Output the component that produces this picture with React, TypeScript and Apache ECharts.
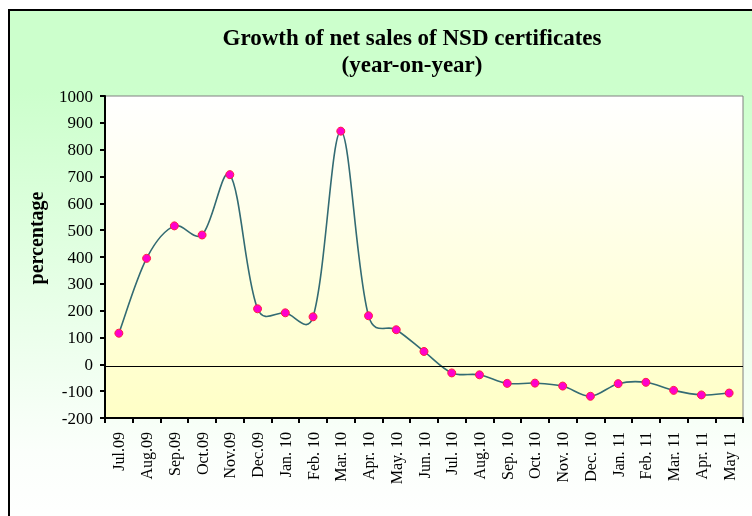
import React, { useEffect, useRef } from "react";
import * as echarts from "echarts";

const categories = [
  "Jul.09", "Aug.09", "Sep.09", "Oct.09", "Nov.09", "Dec.09",
  "Jan. 10", "Feb. 10", "Mar. 10", "Apr. 10", "May. 10", "Jun. 10",
  "Jul. 10", "Aug.10", "Sep. 10", "Oct. 10", "Nov. 10", "Dec. 10",
  "Jan. 11", "Feb. 11", "Mar. 11", "Apr. 11", "May 11",
];

const growth = [
  116, 395, 516, 482, 707, 207, 192, 177, 869, 181, 129, 48,
  -32, -39, -71, -70, -81, -119, -72, -67, -97, -114, -107,
];

const yMin = -200;
const yMax = 1000;
const yStep = 100;
const baseLineValue = -7;

const titleText = "Growth of net sales of NSD certificates\n(year-on-year)";
const yName = "percentage";

const serif = "'Liberation Serif', 'Times New Roman', serif";
const lineColor = "#336b73";

export default function App() {
  const ref = useRef<HTMLDivElement>(null);

  useEffect(() => {
    if (!ref.current) return;
    const chart = echarts.init(ref.current, undefined, { renderer: "svg" });
    const n = growth.length;
    const curveData = growth.map((v, i) => [i, v]);
    const dist = (a: number[], b: number[]) => Math.hypot(a[0] - b[0], a[1] - b[1]);

    chart.setOption({
      animation: false,
      graphic: [
        {
          type: "rect",
          z: -10,
          silent: true,
          shape: { x: 9, y: 10, width: 760, height: 520 },
          style: {
            fill: new echarts.graphic.LinearGradient(0, 0, 0, 1, [
              { offset: 0, color: "#ccffcc" },
              { offset: 0.15, color: "#ccffcc" },
              { offset: 0.85, color: "#fbfffb" },
              { offset: 1, color: "#ffffff" },
            ]),
            stroke: "#000000",
            lineWidth: 2,
          },
        },
        {
          type: "text",
          x: 36,
          y: 238,
          rotation: Math.PI / 2,
          style: {
            text: yName,
            fontFamily: serif,
            fontSize: 20,
            fontWeight: "bold",
            fill: "#000000",
            align: "center",
            verticalAlign: "middle",
          },
        },
      ],
      title: {
        text: titleText,
        left: 407,
        top: 19,
        textAlign: "center",
        textStyle: {
          fontFamily: serif,
          fontSize: 23,
          fontWeight: "bold",
          color: "#000000",
          lineHeight: 27,
        },
      },
      grid: {
        left: 105,
        right: 9,
        top: 96,
        bottom: 98,
        show: true,
        borderColor: "#808080",
        borderWidth: 1,
        backgroundColor: new echarts.graphic.LinearGradient(0, 0, 0, 1, [
          { offset: 0, color: "#ffffff" },
          { offset: 1, color: "#ffffc6" },
        ]),
      },
      xAxis: {
        type: "category",
        data: categories,
        boundaryGap: true,
        axisLine: { show: true, onZero: false, lineStyle: { color: "#000000", width: 2 } },
        axisTick: { show: true, length: 5, lineStyle: { color: "#000000", width: 2 } },
        axisLabel: {
          interval: 0,
          rotate: 90,
          margin: 14,
          fontFamily: serif,
          fontSize: 16,
          color: "#000000",
        },
        splitLine: { show: false },
      },
      yAxis: {
        type: "value",
        min: yMin,
        max: yMax,
        interval: yStep,
        axisLine: { show: true, lineStyle: { color: "#000000", width: 2 } },
        axisTick: { show: true, length: 5, lineStyle: { color: "#000000", width: 2 } },
        axisLabel: {
          margin: 12,
          fontFamily: serif,
          fontSize: 17,
          color: "#000000",
          formatter: (v: number) => String(v),
        },
        splitLine: { show: false },
      },
      series: [
        {
          type: "custom",
          data: curveData,
          encode: { x: 0, y: 1 },
          z: 2,
          silent: true,
          renderItem: (params: any, api: any) => {
            const i = params.dataIndex;
            if (i >= n - 1) return null;
            const pt = (k: number) => {
              const kk = Math.max(0, Math.min(n - 1, k));
              return api.coord([kk, growth[kk]]);
            };
            const p0 = pt(i - 1);
            const p1 = pt(i);
            const p2 = pt(i + 1);
            const p3 = pt(i + 2);
            const k = 1 / 3;
            const d01 = dist(p0, p1);
            const d12 = dist(p1, p2);
            const d23 = dist(p2, p3);
            const wOut = d01 + d12 > 0 ? (d12 / (d01 + d12) + 0.5) / 2 : 0.5;
            const wIn = d12 + d23 > 0 ? (d12 / (d12 + d23) + 0.5) / 2 : 0.5;
            return {
              type: "bezierCurve",
              shape: {
                x1: p1[0],
                y1: p1[1],
                cpx1: p1[0] + (p2[0] - p0[0]) * k * wOut,
                cpy1: p1[1] + (p2[1] - p0[1]) * k * wOut,
                cpx2: p2[0] - (p3[0] - p1[0]) * k * wIn,
                cpy2: p2[1] - (p3[1] - p1[1]) * k * wIn,
                x2: p2[0],
                y2: p2[1],
              },
              style: { stroke: lineColor, lineWidth: 1.6, fill: null },
            };
          },
        },
        {
          type: "scatter",
          data: growth,
          symbol: "circle",
          symbolSize: 8,
          z: 5,
          itemStyle: { color: "#ff00cc", borderColor: "#ff2040", borderWidth: 1, opacity: 1 },
          markLine: {
            silent: true,
            symbol: ["none", "none"],
            label: { show: false },
            lineStyle: { color: "#000000", width: 1, type: "solid" },
            data: [{ yAxis: baseLineValue }],
          },
        },
      ],
    });
    return () => chart.dispose();
  }, []);

  return (
    <div
      ref={ref}
      style={{ position: "fixed", left: 0, top: 0, width: 752, height: 516 }}
    />
  );
}
